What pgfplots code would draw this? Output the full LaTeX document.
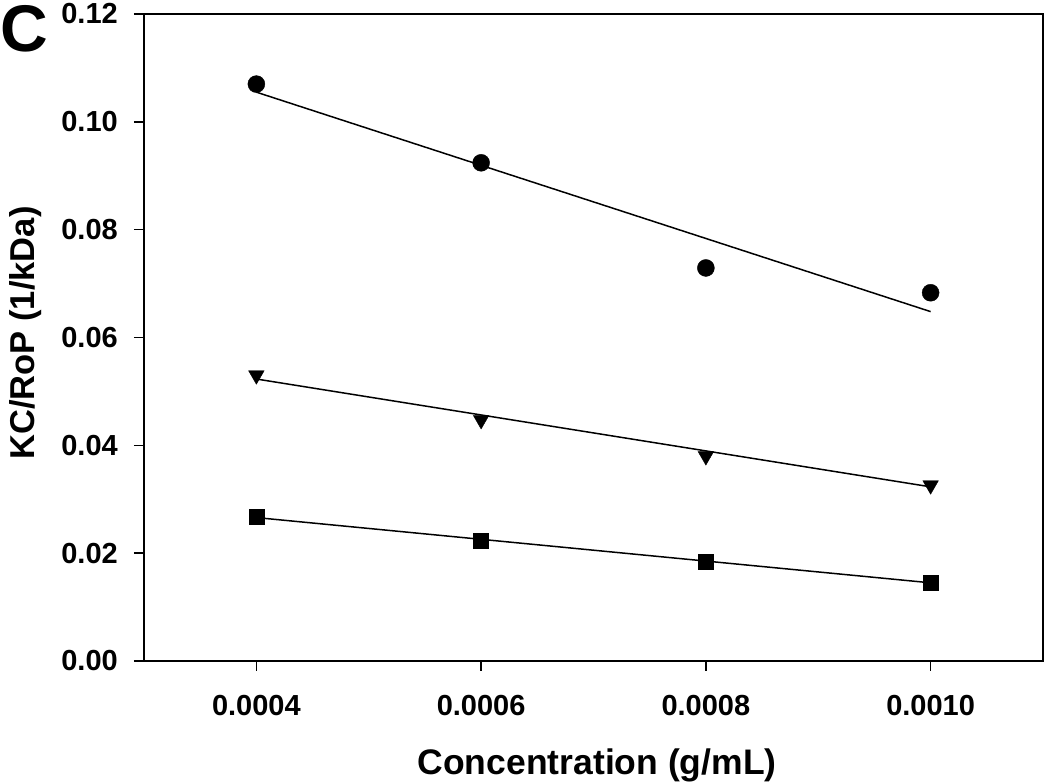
\documentclass[border=0pt]{standalone}
\usepackage{fontspec}
\setmainfont{Liberation Sans}
\usepackage{pgfplots}
\pgfplotsset{compat=1.18}
\begin{document}
\begin{tikzpicture}
\useasboundingbox (-144pt,-123pt) rectangle (906pt,661pt);
\begin{axis}[
  scale only axis, width=899pt, height=647pt,
  xmin=0.0003, xmax=0.0011, ymin=0, ymax=0.12,
  axis line style={line width=1.8pt, black},
  tick style={line width=1.5pt, black},
  tick align=outside, major tick length=10pt,
  xtick={0.0004,0.0006,0.0008,0.0010},
  ytick={0,0.02,0.04,0.06,0.08,0.10,0.12},
  xtick pos=left, ytick pos=left,
  minor tick num=0,
  scaled x ticks=false, scaled y ticks=false,
  xticklabel style={font=\fontsize{29}{34}\selectfont\bfseries, inner sep=0pt, anchor=north, yshift=-24pt,
    /pgf/number format/.cd, fixed, fixed zerofill, precision=4, assume math mode=true},
  yticklabel style={font=\fontsize{29}{34}\selectfont\bfseries, inner sep=0pt, anchor=east, xshift=-16pt,
    /pgf/number format/.cd, fixed, fixed zerofill, precision=2, assume math mode=true},
  xlabel={Concentration (g/mL)},
  ylabel={KC/RoP (1/kDa)},
  xlabel style={font=\fontsize{35.5}{40}\selectfont\bfseries, inner sep=0pt, at={(axis description cs:0.504,-0.1762)}, anchor=base},
  ylabel style={font=\fontsize{34.5}{40}\selectfont\bfseries, inner sep=0pt, at={(axis description cs:-0.122,0.507)}, anchor=base},
]
% circles
\addplot[only marks, mark=*, mark size=8.5pt, mark options={fill=black, draw=black}]
  coordinates {(0.0004,0.1070) (0.0006,0.0924) (0.0008,0.0729) (0.0010,0.0683)};
\addplot[black, line width=1.5pt, no marks] coordinates {(0.0004,0.1055) (0.0010,0.0648)};
% triangles
\addplot[only marks, mark=triangle*, mark size=9pt, mark options={rotate=180, fill=black, draw=black}]
  coordinates {(0.0004,0.0530) (0.0006,0.0447) (0.0008,0.0380) (0.0010,0.0326)};
\addplot[black, line width=1.5pt, no marks] coordinates {(0.0004,0.0523) (0.0010,0.0323)};
% squares
\addplot[only marks, mark=square*, mark size=7.5pt, mark options={fill=black, draw=black}]
  coordinates {(0.0004,0.0267) (0.0006,0.0223) (0.0008,0.0185) (0.0010,0.0145)};
\addplot[black, line width=1.5pt, no marks] coordinates {(0.0004,0.0266) (0.0010,0.0145)};
\end{axis}
\node[anchor=base west, inner sep=0pt, font=\fontsize{66}{70}\selectfont\bfseries] at (-144pt,609pt) {C};
\end{tikzpicture}
\end{document}
